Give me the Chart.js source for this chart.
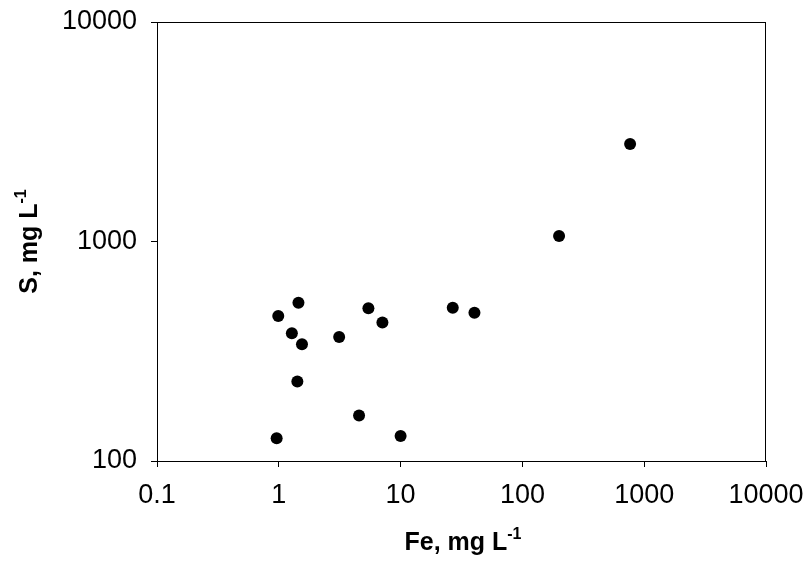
<!doctype html>
<html>

<head>
	<title>Fe vs S</title>
	<script src="https://cdn.jsdelivr.net/npm/chart.js@4/dist/chart.umd.min.js"></script>
	<style>
		body { margin: 0; background: #fff; }
		#holder { width: 809px; height: 563px; }
	</style>
</head>

<body>
	<div id="holder">
		<canvas id="chart-area"></canvas>
	</div>
	<script>
		// Fe and S concentrations, mg L-1
		const feValues = [0.96, 0.99, 1.28, 1.42, 1.45, 1.55, 3.13, 4.56, 5.44, 7.09, 10.0, 26.8, 40.4, 200, 766];
		const sValues = [127, 458, 382, 230, 526, 340, 367, 161, 496, 428, 130, 499, 474, 1059, 2780];
		const xTicks = [0.1, 1, 10, 100, 1000, 10000];
		const yTicks = [100, 1000, 10000];

		const points = feValues.map((fe, i) => ({ x: fe, y: sValues[i] }));

		const tickFont = { family: 'Liberation Sans, Arial, sans-serif', size: 27 };

		// frame + axis titles with superscript
		const decorations = {
			id: 'decorations',
			afterDraw(chart) {
				const ctx = chart.ctx;
				const area = chart.chartArea;
				ctx.save();
				ctx.strokeStyle = '#000';
				ctx.lineWidth = 1;
				ctx.strokeRect(area.left + 0.5, area.top + 0.5, area.right - area.left - 1, area.bottom - area.top);

				const drawTitle = (main, sup, cx, cy, rotate) => {
					ctx.save();
					ctx.translate(cx, cy);
					if (rotate) ctx.rotate(-Math.PI / 2);
					ctx.fillStyle = '#000';
					ctx.textBaseline = 'alphabetic';
					ctx.textAlign = 'left';
					ctx.font = 'bold 25px Liberation Sans, Arial, sans-serif';
					const w1 = ctx.measureText(main).width;
					ctx.font = 'bold 16px Liberation Sans, Arial, sans-serif';
					const w2 = ctx.measureText(sup).width;
					const start = -(w1 + w2) / 2;
					ctx.font = 'bold 25px Liberation Sans, Arial, sans-serif';
					ctx.fillText(main, start, 0);
					ctx.font = 'bold 16px Liberation Sans, Arial, sans-serif';
					ctx.fillText(sup, start + w1, -11);
					ctx.restore();
				};
				drawTitle('Fe, mg L', '-1', 463, 550, false);
				drawTitle('S, mg L', '-1', 37, (area.top + area.bottom) / 2, true);
				ctx.restore();
			}
		};

		const config = {
			type: 'scatter',
			data: {
				datasets: [{
					data: points,
					backgroundColor: '#000',
					borderWidth: 0,
					pointRadius: 6,
					pointHoverRadius: 6
				}]
			},
			options: {
				responsive: true,
				maintainAspectRatio: false,
				animation: false,
				layout: { padding: { top: 22, right: 43, left: 0, bottom: 0 } },
				plugins: {
					legend: { display: false },
					tooltip: { enabled: false }
				},
				scales: {
					x: {
						type: 'logarithmic',
						min: 0.1,
						max: 10000,
						afterBuildTicks(scale) {
							scale.ticks = xTicks.map((v) => ({ value: v }));
						},
						afterFit(scale) {
							scale.height = 102;
							scale.paddingLeft = 0;
							scale.paddingRight = 0;
						},
						ticks: {
							autoSkip: false,
							maxRotation: 0,
							color: '#000',
							font: tickFont,
							padding: 12,
							callback: (v) => String(v)
						},
						grid: { drawOnChartArea: false, tickLength: 6, tickColor: '#000' },
						border: { color: '#000', width: 1 }
					},
					y: {
						type: 'logarithmic',
						min: 100,
						max: 10000,
						afterBuildTicks(scale) {
							scale.ticks = yTicks.map((v) => ({ value: v }));
						},
						afterFit(scale) {
							scale.width = 157;
							scale.paddingTop = 0;
							scale.paddingBottom = 0;
						},
						ticks: {
							autoSkip: false,
							color: '#000',
							font: tickFont,
							padding: 14,
							callback: (v) => String(v)
						},
						grid: { drawOnChartArea: false, tickLength: 6, tickColor: '#000' },
						border: { color: '#000', width: 1 }
					}
				}
			},
			plugins: [decorations]
		};

		window.onload = function() {
			const ctx = document.getElementById('chart-area').getContext('2d');
			window.myScatter = new Chart(ctx, config);
		};
	</script>
</body>

</html>
